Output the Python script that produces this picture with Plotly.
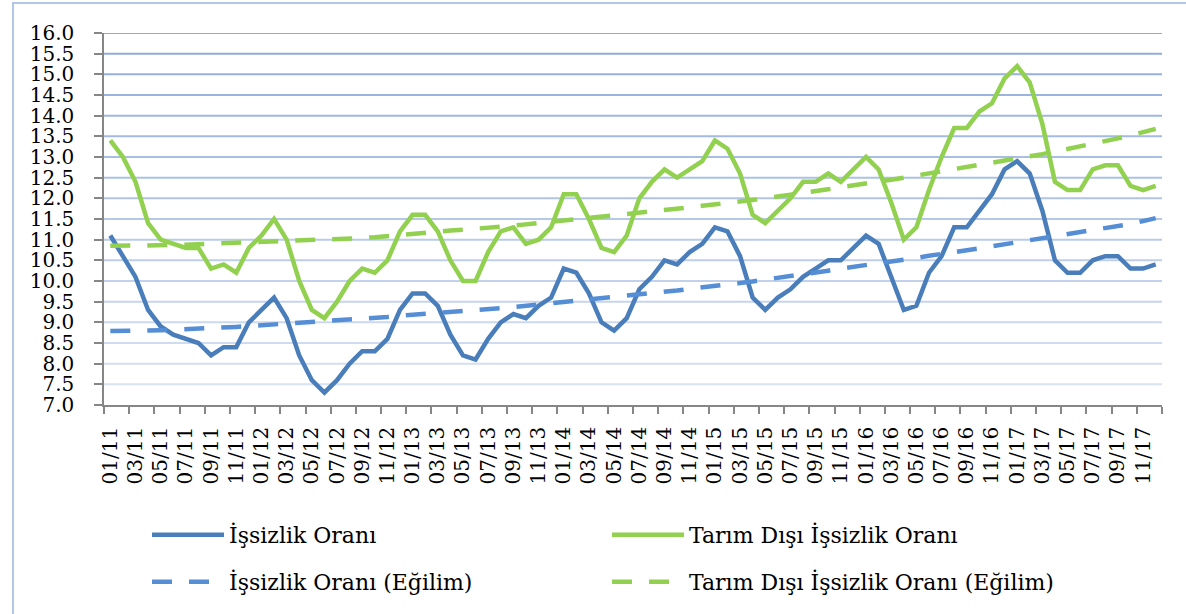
import plotly.graph_objects as go

# ---------------- data ----------------
years = ["11", "12", "13", "14", "15", "16", "17"]
months = [f"{m:02d}/{y}" for y in years for m in range(1, 13)]

issizlik = [11.1, 10.6, 10.1, 9.3, 8.9, 8.7, 8.6, 8.5, 8.2, 8.4, 8.4, 9.0,
            9.3, 9.6, 9.1, 8.2, 7.6, 7.3, 7.6, 8.0, 8.3, 8.3, 8.6, 9.3,
            9.7, 9.7, 9.4, 8.7, 8.2, 8.1, 8.6, 9.0, 9.2, 9.1, 9.4, 9.6,
            10.3, 10.2, 9.7, 9.0, 8.8, 9.1, 9.8, 10.1, 10.5, 10.4, 10.7, 10.9,
            11.3, 11.2, 10.6, 9.6, 9.3, 9.6, 9.8, 10.1, 10.3, 10.5, 10.5, 10.8,
            11.1, 10.9, 10.1, 9.3, 9.4, 10.2, 10.6, 11.3, 11.3, 11.7, 12.1, 12.7,
            12.9, 12.6, 11.7, 10.5, 10.2, 10.2, 10.5, 10.6, 10.6, 10.3, 10.3, 10.4]

tarim_disi = [13.4, 13.0, 12.4, 11.4, 11.0, 10.9, 10.8, 10.8, 10.3, 10.4, 10.2, 10.8,
              11.1, 11.5, 11.0, 10.0, 9.3, 9.1, 9.5, 10.0, 10.3, 10.2, 10.5, 11.2,
              11.6, 11.6, 11.2, 10.5, 10.0, 10.0, 10.7, 11.2, 11.3, 10.9, 11.0, 11.3,
              12.1, 12.1, 11.5, 10.8, 10.7, 11.1, 12.0, 12.4, 12.7, 12.5, 12.7, 12.9,
              13.4, 13.2, 12.6, 11.6, 11.4, 11.7, 12.0, 12.4, 12.4, 12.6, 12.4, 12.7,
              13.0, 12.7, 11.9, 11.0, 11.3, 12.2, 13.0, 13.7, 13.7, 14.1, 14.3, 14.9,
              15.2, 14.8, 13.8, 12.4, 12.2, 12.2, 12.7, 12.8, 12.8, 12.3, 12.2, 12.3]

issizlik_egilim = [8.79, 8.79, 8.80, 8.80, 8.81, 8.82, 8.83, 8.84, 8.86, 8.88, 8.89, 8.91,
                   8.93, 8.95, 8.97, 8.99, 9.00, 9.02, 9.03, 9.05, 9.08, 9.11, 9.13, 9.16,
                   9.18, 9.20, 9.22, 9.24, 9.27, 9.29, 9.31, 9.34, 9.37, 9.40, 9.42, 9.45,
                   9.48, 9.51, 9.54, 9.57, 9.60, 9.63, 9.67, 9.70, 9.74, 9.77, 9.81, 9.84,
                   9.88, 9.91, 9.95, 9.99, 10.03, 10.07, 10.12, 10.16, 10.21, 10.25, 10.30, 10.34,
                   10.38, 10.43, 10.47, 10.52, 10.56, 10.61, 10.65, 10.70, 10.74, 10.79, 10.84, 10.89,
                   10.93, 10.98, 11.03, 11.07, 11.12, 11.17, 11.22, 11.27, 11.32, 11.38, 11.45, 11.52]

tarim_disi_egilim = [10.85, 10.85, 10.86, 10.86, 10.87, 10.87, 10.88, 10.89, 10.90, 10.91, 10.92, 10.93,
                     10.94, 10.95, 10.96, 10.97, 10.99, 11.00, 11.01, 11.02, 11.04, 11.06, 11.09, 11.12,
                     11.15, 11.17, 11.19, 11.22, 11.24, 11.26, 11.28, 11.31, 11.34, 11.37, 11.40, 11.43,
                     11.46, 11.49, 11.52, 11.55, 11.58, 11.61, 11.64, 11.68, 11.71, 11.75, 11.78, 11.82,
                     11.85, 11.89, 11.92, 11.96, 12.00, 12.04, 12.09, 12.13, 12.18, 12.22, 12.27, 12.31,
                     12.35, 12.40, 12.45, 12.50, 12.55, 12.60, 12.65, 12.70, 12.75, 12.80, 12.86, 12.91,
                     12.96, 13.02, 13.07, 13.13, 13.19, 13.25, 13.31, 13.37, 13.45, 13.52, 13.60, 13.68]

y_ticks = [7.0 + 0.5 * k for k in range(19)]

# ---------------- figure ----------------
idx = list(range(len(months)))
FONT = "DejaVu Serif"

BLUE = "#4A7EBB"
BLUE_D = "#558ED5"
GREEN = "#92D050"

fig = go.Figure()
fig.add_trace(go.Scatter(x=idx, y=issizlik, mode="lines", name="İşsizlik Oranı",
                         line=dict(color=BLUE, width=4.5), legend="legend"))
fig.add_trace(go.Scatter(x=idx, y=tarim_disi, mode="lines", name="Tarım Dışı İşsizlik Oranı",
                         line=dict(color=GREEN, width=4.5), legend="legend"))
fig.add_trace(go.Scatter(x=idx, y=issizlik_egilim, mode="lines", name="İşsizlik Oranı (Eğilim)",
                         line=dict(color=BLUE_D, width=4.5, dash="20px,17px"), legend="legend2"))
fig.add_trace(go.Scatter(x=idx, y=tarim_disi_egilim, mode="lines",
                         name="Tarım Dışı İşsizlik Oranı (Eğilim)",
                         line=dict(color=GREEN, width=4.5, dash="20px,17px"), legend="legend2"))

# gradient-coloured horizontal gridlines (darker at top, lighter at bottom)
def lerp(c1, c2, t):
    a = [int(c1[i:i + 2], 16) for i in (1, 3, 5)]
    b = [int(c2[i:i + 2], 16) for i in (1, 3, 5)]
    return "#" + "".join(f"{round(a[j] + (b[j] - a[j]) * t):02x}" for j in range(3))

shapes = []
for v in y_ticks[1:]:
    t = (16.0 - v) / 9.0
    shapes.append(dict(type="line", xref="paper", yref="y", x0=0, x1=1, y0=v, y1=v,
                       line=dict(color=lerp("#8EAADB", "#DCE5F4", t), width=2), layer="below"))
# outer chart border (cropped at right / bottom)
shapes.append(dict(type="rect", xref="paper", yref="paper", x0=-0.086, x1=1.2, y0=-1.0, y1=1.0806,
                   line=dict(color="#B3C6E8", width=2), layer="below"))

boundaries = [i - 0.5 for i in idx[::2]] + [idx[-1] + 0.5]

legend_common = dict(orientation="h", xref="container", yref="container",
                     xanchor="left", yanchor="middle",
                     font=dict(family=FONT, size=22, color="#000000"),
                     bgcolor="rgba(0,0,0,0)", itemwidth=72,
                     entrywidth=373, entrywidthmode="pixels",
                     itemclick=False, itemdoubleclick=False)

fig.update_layout(
    width=1186, height=614,
    margin=dict(l=104, r=24, t=33, b=209),
    paper_bgcolor="white", plot_bgcolor="white",
    showlegend=True,
    shapes=shapes,
    xaxis=dict(
        range=[-0.5, len(months) - 0.5],
        tickmode="array", tickvals=idx[::2], ticktext=months[::2],
        tickangle=-90, ticks="", showgrid=False, zeroline=False,
        showline=True, linecolor="#868686", linewidth=1.5,
        tickfont=dict(family=FONT, size=20, color="#000000"),
        ticklabelstandoff=12,
        minor=dict(tickmode="array", tickvals=boundaries, ticks="outside", ticklen=7,
                   tickwidth=1.5, tickcolor="#868686", showgrid=False),
    ),
    yaxis=dict(
        range=[7, 16], tickmode="array", tickvals=y_ticks,
        ticktext=[f"{v:.1f}" for v in y_ticks],
        ticks="outside", ticklen=8, tickwidth=1.5, tickcolor="#868686",
        showline=True, linecolor="#868686", linewidth=1.5,
        showgrid=False, zeroline=False,
        tickfont=dict(family=FONT, size=20, color="#000000"),
        ticklabelstandoff=16,
    ),
    legend=dict(x=147 / 1186, y=1 - 535 / 614, **legend_common),
    legend2=dict(x=147 / 1186, y=1 - 582 / 614, **legend_common),
)

fig.write_html("out.html", config={"displayModeBar": False},
               post_script="document.body.style.margin='0';document.body.style.overflow='hidden';")
